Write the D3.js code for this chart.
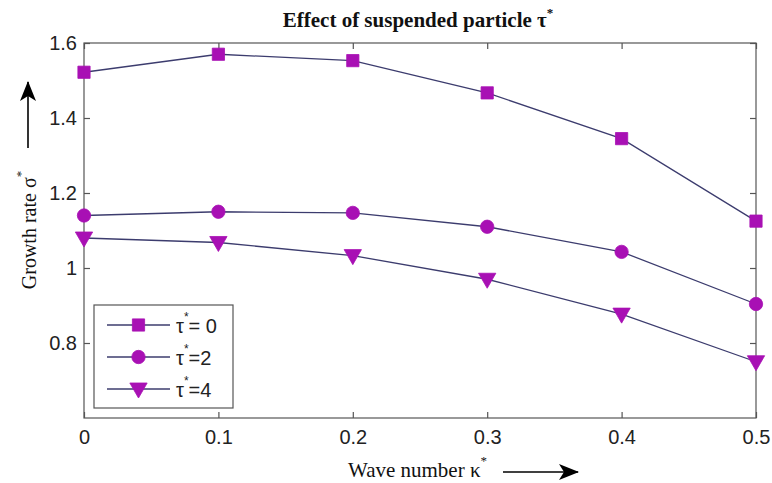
<!DOCTYPE html>
<html>
<head>
<meta charset="utf-8">
<script src="https://cdn.jsdelivr.net/npm/d3@7"></script>
<style>
  body { margin: 0; background: #fff; }
  svg { display: block; }
</style>
</head>
<body>
<svg id="chart" width="772" height="483"></svg>
<script>
const kappa = [0, 0.1, 0.2, 0.3, 0.4, 0.5];
const tau0 = [1.522, 1.570, 1.553, 1.467, 1.345, 1.125];
const tau2 = [1.140, 1.150, 1.147, 1.110, 1.043, 0.904];
const tau4 = [1.080, 1.068, 1.033, 0.970, 0.877, 0.750];
const seriesNames = ["= 0", "=2", "=4"];
const xTicks = [0, 0.1, 0.2, 0.3, 0.4, 0.5];
const yTicks = [0.8, 1, 1.2, 1.4, 1.6];

const lineColor = "#3c3c6e";
const markColor = "#a810b4";
const sans = "Liberation Sans, Arial, sans-serif";
const serif = "Liberation Serif, Times New Roman, serif";

const svg = d3.select("#chart");
const L = 84, R = 756, T = 43, B = 418;

const x = d3.scaleLinear().domain([0, 0.5]).range([L, R]);
const y = d3.scaleLinear().domain([0.6, 1.6]).range([B, T]);

// box
svg.append("rect").attr("x", L).attr("y", T).attr("width", R - L).attr("height", B - T)
  .attr("fill", "none").attr("stroke", "#555").attr("stroke-width", 1.2);

// axes (inward ticks, matlab style)
svg.append("g").attr("transform", `translate(0,${B})`)
  .call(d3.axisBottom(x).tickValues(xTicks).tickSize(-6).tickPadding(12).tickFormat(d => d === 0 ? "0" : d3.format(".1f")(d)));
svg.append("g").attr("transform", `translate(0,${T})`)
  .call(d3.axisTop(x).tickValues(xTicks).tickSize(-6).tickFormat(""));
svg.append("g").attr("transform", `translate(${L},0)`)
  .call(d3.axisLeft(y).tickValues(yTicks).tickSize(-6).tickPadding(7).tickFormat(d => d === 1 ? "1" : d3.format(".1f")(d)));
svg.append("g").attr("transform", `translate(${R},0)`)
  .call(d3.axisRight(y).tickValues(yTicks).tickSize(-6).tickFormat(""));
svg.selectAll(".domain").remove();
svg.selectAll(".tick line").attr("stroke", "#555").attr("stroke-width", 1.2);
svg.selectAll(".tick text").attr("font-family", sans).attr("font-size", 20).attr("fill", "#222");

// lines + markers
const line = d3.line().x((d, i) => x(kappa[i])).y(d => y(d));
const allSeries = [tau0, tau2, tau4];
const shapes = [d3.symbolSquare, d3.symbolCircle, d3.symbolTriangle];
const sizes = [150, 140, 130];

function marker(g, k, cx, cy) {
  const p = d3.symbol().type(shapes[k]).size(sizes[k]);
  g.append("path").attr("d", p)
    .attr("transform", `translate(${cx},${cy + (k === 2 ? -1 : 0)})` + (k === 2 ? " rotate(180)" : ""))
    .attr("fill", markColor).attr("stroke", markColor).attr("stroke-width", 0.8);
}

allSeries.forEach((s, k) => {
  svg.append("path").datum(s).attr("d", line)
    .attr("fill", "none").attr("stroke", lineColor).attr("stroke-width", 1.3);
  const g = svg.append("g");
  s.forEach((v, i) => marker(g, k, x(kappa[i]), y(v)));
});

// legend
const lg = svg.append("g");
lg.append("rect").attr("x", 94).attr("y", 305).attr("width", 139).attr("height", 103)
  .attr("fill", "#fff").attr("stroke", "#555").attr("stroke-width", 1.2);
seriesNames.forEach((n, k) => {
  const ly = 325 + k * 32;
  lg.append("line").attr("x1", 107).attr("x2", 170).attr("y1", ly).attr("y2", ly)
    .attr("stroke", lineColor).attr("stroke-width", 1.3);
  marker(lg, k, 138.5, ly);
  const t = lg.append("text").attr("x", 176).attr("y", ly + 8)
    .attr("font-family", sans).attr("font-size", 20).attr("fill", "#222");
  t.append("tspan").text("τ");
  t.append("tspan").attr("dy", -12).attr("font-size", 12).text("*");
  t.append("tspan").attr("dy", 12).text(n);
});

// title
const title = svg.append("text").attr("x", 418).attr("y", 27).attr("text-anchor", "middle")
  .attr("font-family", serif).attr("font-weight", "bold")
  .attr("font-size", 21).attr("fill", "#111");
title.append("tspan").text("Effect of suspended particle τ");
title.append("tspan").attr("dy", -10).attr("font-size", 13).text("*");

// arrowhead
svg.append("defs").append("marker").attr("id", "ah").attr("viewBox", "0 0 20 16")
  .attr("refX", 19).attr("refY", 8).attr("markerWidth", 20).attr("markerHeight", 16)
  .attr("orient", "auto").attr("markerUnits", "userSpaceOnUse")
  .append("path").attr("d", "M0,0 L20,8 L0,16 L5,8 Z").attr("fill", "#000");

// x label
const xl = svg.append("text").attr("x", 348).attr("y", 477)
  .attr("font-family", serif).attr("font-size", 21).attr("fill", "#111");
xl.append("tspan").text("Wave number κ");
xl.append("tspan").attr("dy", -12).attr("font-size", 13).text("*");
svg.append("line").attr("x1", 503).attr("x2", 578).attr("y1", 472).attr("y2", 472)
  .attr("stroke", "#000").attr("stroke-width", 1.6).attr("marker-end", "url(#ah)");

// y label
const yl = svg.append("text").attr("transform", "translate(36,230) rotate(-90)").attr("text-anchor", "middle")
  .attr("font-family", serif).attr("font-size", 20).attr("fill", "#111");
yl.append("tspan").text("Growth rate σ");
yl.append("tspan").attr("dy", -11).attr("font-size", 13).text("*");
svg.append("line").attr("x1", 28).attr("x2", 28).attr("y1", 148).attr("y2", 82)
  .attr("stroke", "#000").attr("stroke-width", 1.6).attr("marker-end", "url(#ah)");
</script>
</body>
</html>
